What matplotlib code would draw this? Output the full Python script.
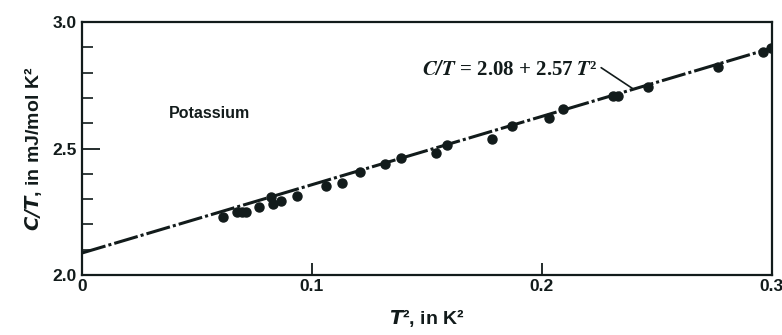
import matplotlib
matplotlib.use("Agg")
import matplotlib.pyplot as plt
from matplotlib.ticker import MultipleLocator, FixedLocator

# measured points (T^2 in K^2, C/T in mJ/mol K^2)
t_squared = [0.0614, 0.0673, 0.0694, 0.0713, 0.0771, 0.0822, 0.0829, 0.0864,
             0.0936, 0.1060, 0.1129, 0.1209, 0.1317, 0.1386, 0.1539, 0.1586,
             0.1781, 0.1871, 0.2032, 0.2090, 0.2309, 0.2330, 0.2462, 0.2767,
             0.2960, 0.2994]
c_over_t = [2.230, 2.248, 2.248, 2.248, 2.268, 2.307, 2.281, 2.294,
            2.313, 2.353, 2.362, 2.408, 2.438, 2.464, 2.481, 2.514,
            2.536, 2.590, 2.619, 2.655, 2.708, 2.708, 2.742, 2.821,
            2.880, 2.896]

# fitted line as drawn in the figure
fit_x = [0.0, 0.3]
fit_y = [2.087, 2.897]

x_ticks = [0, 0.1, 0.2, 0.3]
x_tick_labels = ["0", "0.1", "0.2", "0.3"]
y_ticks = [2.0, 2.5, 3.0]
y_tick_labels = ["2.0", "2.5", "3.0"]

ink = "#121b1b"

fig = plt.figure(figsize=(7.82, 3.35), dpi=100)
ax = fig.add_axes([0.1049, 0.1791, 0.8822, 0.7552])

ax.plot(fit_x, fit_y, color=ink, lw=2.2, linestyle=(0, (8, 1.0, 1, 1.0)))
ax.plot(t_squared, c_over_t, "o", color=ink, ms=6.5, mec=ink)

ax.set_xlim(0, 0.3)
ax.set_ylim(2.0, 3.0)

ax.xaxis.set_major_locator(FixedLocator(x_ticks))
ax.set_xticklabels(x_tick_labels)
ax.yaxis.set_major_locator(FixedLocator(y_ticks))
ax.set_yticklabels(y_tick_labels)
ax.yaxis.set_minor_locator(MultipleLocator(0.1))

ax.tick_params(axis="both", which="both", direction="in", colors=ink)
ax.tick_params(axis="y", which="major", length=13, width=1.3, pad=4)
ax.tick_params(axis="y", which="minor", length=8, width=1.2)
ax.tick_params(axis="x", which="major", length=9, width=1.3, pad=3)
for lab in ax.get_xticklabels() + ax.get_yticklabels():
    lab.set_fontfamily("Liberation Sans")
    lab.set_fontweight("bold")
    lab.set_fontsize(12.5)
    lab.set_color(ink)

for sp in ax.spines.values():
    sp.set_linewidth(1.6)
    sp.set_color(ink)

ax.set_ylabel(r"$\mathbfit{C/T}$, in mJ/mol K²", fontfamily="Liberation Sans",
              fontweight="bold", fontsize=14, color=ink, labelpad=6,
              math_fontfamily="dejavusans")
ax.set_xlabel(r"$\mathbfit{T}$², in K²", fontfamily="Liberation Sans",
              fontweight="bold", fontsize=14, color=ink, labelpad=9,
              math_fontfamily="dejavusans")

ax.text(0.0378, 2.640, "Potassium", fontfamily="Liberation Sans",
        fontweight="bold", fontsize=11.5, color=ink, ha="left", va="center")

ax.annotate(r"$\mathbfit{C/T}$ = 2.08 + 2.57 $\mathbfit{T}$²",
            xy=(0.2396, 2.736), xytext=(0.1478, 2.81),
            fontfamily="Liberation Serif", fontweight="bold", fontsize=15,
            color=ink, ha="left", va="center", math_fontfamily="stix",
            arrowprops=dict(arrowstyle="-", color=ink, lw=1.2,
                            relpos=(1.0, 0.75), shrinkA=1, shrinkB=0))

fig.savefig("out.png", dpi=100, facecolor="white")
